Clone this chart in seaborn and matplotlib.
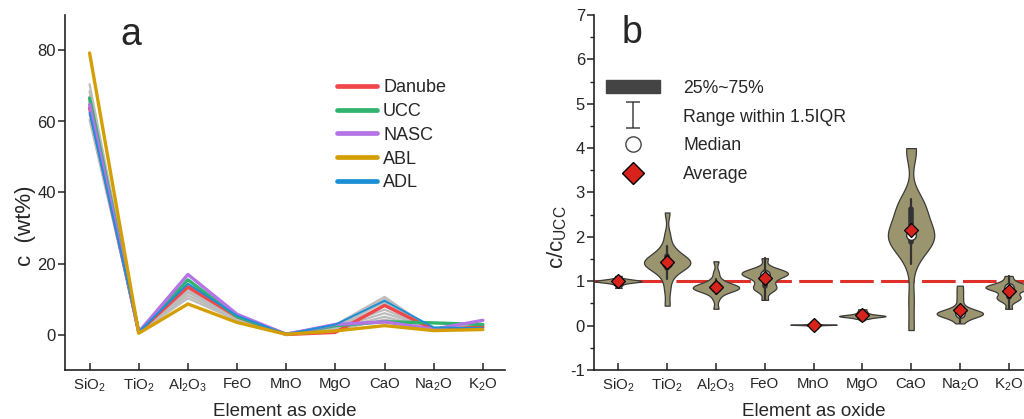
import numpy as np
import pandas as pd
import matplotlib
matplotlib.use("Agg")
import matplotlib.pyplot as plt
import seaborn as sns
from matplotlib.lines import Line2D
from matplotlib.patches import Patch
from matplotlib.path import Path

# ---------------- data ----------------
oxides = ['SiO$_2$', 'TiO$_2$', 'Al$_2$O$_3$', 'FeO', 'MnO', 'MgO', 'CaO', 'Na$_2$O', 'K$_2$O']

# panel a : concentrations (wt%)
danube = [63.8, 0.70, 13.4, 5.0, 0.0, 0.6, 8.2, 1.4, 2.1]
ucc = [66.6, 0.64, 15.4, 5.04, 0.10, 2.48, 3.59, 3.27, 2.80]
nasc = [64.8, 0.70, 16.9, 5.7, 0.06, 2.85, 3.56, 1.5, 3.99]
abl = [79.3, 0.35, 8.6, 3.4, 0.05, 1.0, 2.5, 1.1, 1.4]
adl = [62.5, 0.72, 14.3, 5.3, 0.10, 2.8, 9.5, 2.0, 1.8]

# individual Danube samples (grey envelope)
samples = [
    [70.5, 0.60, 10.2, 4.0, 0.08, 1.5, 5.0, 1.5, 1.8],
    [68.5, 0.65, 11.0, 4.3, 0.09, 1.8, 6.0, 1.6, 1.9],
    [67.0, 0.70, 11.8, 4.6, 0.10, 2.0, 7.0, 1.4, 2.0],
    [65.5, 0.72, 12.5, 4.8, 0.10, 2.2, 8.0, 1.3, 2.1],
    [64.0, 0.75, 13.0, 5.0, 0.11, 2.4, 9.0, 1.2, 2.2],
    [62.0, 0.78, 13.6, 5.2, 0.12, 2.6, 10.0, 1.1, 2.3],
    [60.5, 0.80, 14.0, 5.4, 0.12, 2.7, 10.6, 1.0, 2.4],
    [66.0, 0.68, 12.0, 4.5, 0.09, 1.2, 4.2, 1.8, 2.0],
]

series_names = ['Danube', 'UCC', 'NASC', 'ABL', 'ADL']
series_colors = ['#f0474a', '#2fb36e', '#b574e6', '#d49e05', '#1b8fd6']

# panel b : c / c_UCC for Danube samples
r_sio2 = [0.85, 0.91, 0.95, 0.97, 0.98, 0.99, 1.0, 1.0, 1.0, 1.01, 1.02, 1.03, 1.04, 1.06, 1.12]
r_tio2 = [0.45, 0.8, 1.05, 1.2, 1.28, 1.33, 1.36, 1.38, 1.4, 1.42, 1.44, 1.46, 1.5, 1.55, 1.6, 1.68, 1.8, 2.05, 2.55]
r_al2o3 = [0.38, 0.6, 0.72, 0.78, 0.8, 0.82, 0.84, 0.85, 0.86, 0.87, 0.88, 0.9, 0.93, 0.97, 1.05, 1.2, 1.45]
r_feo = [0.58, 0.78, 0.83, 0.86, 0.9, 0.98, 1.05, 1.1, 1.13, 1.15, 1.17, 1.19, 1.2, 1.22, 1.25, 1.3, 1.52]
r_mno = [0.0, 0.01, 0.015, 0.02, 0.02, 0.02, 0.025, 0.03, 0.04]
r_mgo = [0.15, 0.18, 0.2, 0.21, 0.21, 0.22, 0.22, 0.23, 0.25, 0.28, 0.32, 0.37]
r_cao = [-0.1, 0.6, 1.4, 1.7, 1.8, 1.9, 1.95, 1.98, 2.0, 2.03, 2.07, 2.2, 2.35, 2.5, 2.6, 2.7, 2.8, 2.85, 3.9, 4.0]
r_na2o = [0.05, 0.15, 0.2, 0.23, 0.25, 0.26, 0.27, 0.28, 0.29, 0.3, 0.32, 0.36, 0.45, 0.6, 0.75, 0.9]
r_k2o = [0.38, 0.55, 0.6, 0.63, 0.66, 0.72, 0.8, 0.83, 0.85, 0.86, 0.87, 0.88, 0.9, 0.93, 1.0, 1.12]
ratios = [r_sio2, r_tio2, r_al2o3, r_feo, r_mno, r_mgo, r_cao, r_na2o, r_k2o]

legend_b_labels = ['25%~75%', 'Range within 1.5IQR', 'Median', 'Average']

# ---------------- style ----------------
sns.set_style("ticks")
plt.rcParams['font.family'] = ['Liberation Sans', 'DejaVu Sans']
plt.rcParams['mathtext.fontset'] = 'custom'
plt.rcParams['mathtext.rm'] = 'Liberation Sans'
plt.rcParams['mathtext.it'] = 'Liberation Sans:italic'
plt.rcParams['mathtext.bf'] = 'Liberation Sans:bold'
plt.rcParams['mathtext.default'] = 'regular'
plt.rcParams['axes.unicode_minus'] = False

fig = plt.figure(figsize=(10.24, 4.19), dpi=100)
W, H = 1024, 419
axa = fig.add_axes([65 / W, 49 / H, 440 / W, 355 / H])
axb = fig.add_axes([594 / W, 49 / H, 439 / W, 355 / H])

# ---------------- panel a ----------------
grey_df = pd.DataFrame([(i, ox, v) for i, s in enumerate(samples) for ox, v in zip(oxides, s)],
                       columns=['sample', 'oxide', 'c'])
sns.lineplot(data=grey_df, x='oxide', y='c', units='sample', estimator=None,
             color='#bcbcbc', linewidth=1.6, ax=axa, legend=False)

series_vals = dict(zip(series_names, [danube, ucc, nasc, abl, adl]))
series_col = dict(zip(series_names, series_colors))
draw_order = ['Danube', 'UCC', 'NASC', 'ADL', 'ABL']
widths = {'Danube': 2.4, 'UCC': 2.4, 'NASC': 2.4, 'ADL': 1.4, 'ABL': 2.4}
for name in draw_order:
    d = pd.DataFrame({'oxide': oxides, 'c': series_vals[name]})
    sns.lineplot(data=d, x='oxide', y='c', color=series_col[name], linewidth=widths[name],
                 ax=axa, legend=False)

handles_a = [Line2D([], [], color=series_col[n], lw=3.4) for n in series_names]
fig.legend(handles_a, series_names, loc='upper left', bbox_to_anchor=(337 / W, 1 - 79 / H),
           frameon=False, fontsize=13, handlelength=2.2, handletextpad=0.35,
           labelspacing=0.38, borderpad=0, borderaxespad=0)

axa.set_xlim(-0.5, 8.45)
axa.set_ylim(-10, 90)
axa.set_yticks([0, 20, 40, 60, 80])
axa.set_xlabel('Element as oxide', fontsize=13.5, labelpad=6)
axa.set_ylabel('c  (wt%)', fontsize=16)
axa.yaxis.set_label_coords(-0.066, 0.405)
fig.text(131 / W, 1 - 35 / H, 'a', fontsize=27, ha='center', va='center')

# ---------------- panel b ----------------
df_b = pd.DataFrame([(ox, v) for ox, lst in zip(oxides, ratios) for v in lst],
                    columns=['oxide', 'ratio'])

axb.axhline(1, color='#e0302a', lw=2.2, dashes=(11, 2.4), zorder=0.5)
sns.violinplot(data=df_b, x='oxide', y='ratio', order=oxides, color='#9a956e',
               saturation=1, linecolor='#3a3a3a', linewidth=0.9, cut=0,
               density_norm='width', width=0.95, bw_adjust=0.6, inner='box',
               inner_kws=dict(box_width=4, whis_width=1.6, color='#333333', marker=''),
               ax=axb)
sns.pointplot(data=df_b, x='oxide', y='ratio', order=oxides, estimator='median',
              errorbar=None, linestyle='none', marker='o', color='white',
              markersize=7, markeredgecolor='#333333', markeredgewidth=1, ax=axb)
sns.pointplot(data=df_b, x='oxide', y='ratio', order=oxides, estimator='mean',
              errorbar=None, linestyle='none', marker='D', color='#d8231c',
              markersize=7.5, markeredgecolor='black', markeredgewidth=0.9, ax=axb)

whisk = Path([(-0.5, 1), (0.5, 1), (0, 1), (0, -1), (-0.5, -1), (0.5, -1)],
             [Path.MOVETO, Path.LINETO, Path.MOVETO, Path.LINETO, Path.MOVETO, Path.LINETO])
handles_b = [
    Patch(facecolor='#444444', edgecolor='#444444'),
    Line2D([], [], marker=whisk, markersize=19, color='#444444', linestyle='none',
           markeredgewidth=1.1, markerfacecolor='none'),
    Line2D([], [], marker='o', markersize=11, markerfacecolor='white',
           markeredgecolor='#444444', linestyle='none', markeredgewidth=1),
    Line2D([], [], marker='D', markersize=11, markerfacecolor='#d8231c',
           markeredgecolor='black', linestyle='none', markeredgewidth=1),
]
fig.legend(handles_b, legend_b_labels, loc='upper left', bbox_to_anchor=(606 / W, 1 - 80 / H),
           frameon=False, fontsize=12.7, handlelength=3.07, handleheight=0.74,
           handletextpad=1.3, labelspacing=0.66, borderpad=0, borderaxespad=0)

axb.set_xlim(-0.5, 8.5)
axb.set_ylim(-1, 7)
axb.set_yticks(range(-1, 8))
axb.set_yticks(np.arange(-0.5, 7, 1.0), minor=True)
axb.set_xlabel('Element as oxide', fontsize=13.5, labelpad=6)
axb.set_ylabel('c/c$_{UCC}$', fontsize=16)
axb.yaxis.set_label_coords(-0.058, 0.375)
fig.text(632 / W, 1 - 33 / H, 'b', fontsize=27, ha='center', va='center')

for ax in (axa, axb):
    sns.despine(ax=ax)
    for sp in ('left', 'bottom'):
        ax.spines[sp].set_linewidth(1.2)
        ax.spines[sp].set_color('#222222')
    ax.tick_params(axis='x', which='major', length=5, width=1.1, labelsize=10.8,
                   direction='in', pad=5, color='#222222')
    ax.tick_params(axis='y', which='major', length=5, width=1.1, labelsize=12,
                   direction='out', pad=1.5, color='#222222')
    ax.tick_params(axis='y', which='minor', length=3, width=1.0, color='#222222')
    ax.tick_params(axis='x', which='minor', bottom=False)

fig.savefig('out.png', dpi=100)
